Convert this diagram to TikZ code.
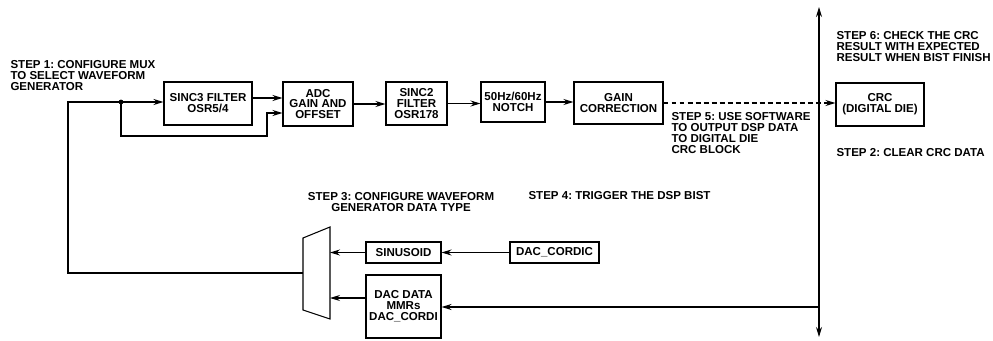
\documentclass[tikz,border=0pt]{standalone}
\usepackage{fontspec}
\setmainfont{Liberation Sans}
\usetikzlibrary{arrows.meta,positioning}
\frenchspacing

\begin{document}
\begin{tikzpicture}[x=0.025cm, y=-0.025cm, font=\fontsize{8.2}{7.8}\selectfont\bfseries,
  line width=0.75pt, >={Stealth[length=0.25cm, width=0.15cm]},
  blk/.style={draw, align=center, inner sep=0pt},
  note/.style={inner sep=0pt, align=left}]
  \useasboundingbox (0,0) rectangle (993,341);
  % signal chain
  \node[blk, minimum width=2.2cm, minimum height=1.075cm] (s3) at (208,103.5) {SINC3 FILTER\\OSR5/4};
  \node[blk, minimum width=1.75cm, minimum height=1.1cm] (adc) at (318,104) {ADC\\GAIN AND\\OFFSET};
  \node[blk, minimum width=1.525cm, minimum height=1.075cm] (s2) at (416.5,103.5) {SINC2\\FILTER\\OSR178};
  \node[blk, minimum width=1.6cm, minimum height=1.0cm] (nt) at (513,102) {50Hz/60Hz\\NOTCH};
  \node[blk, minimum width=2.225cm, minimum height=1.05cm] (gc) at (618.5,103) {GAIN\\CORRECTION};
  \node[blk, minimum width=2.2cm, minimum height=1.075cm] (crc) at (880,104.5) {CRC\\(DIGITAL DIE)};
  % waveform generator
  \node[blk, minimum width=1.875cm, minimum height=0.525cm] (sn) at (403.5,252.5) {SINUSOID};
  \node[blk, minimum width=2.225cm, minimum height=0.525cm] (cd) at (554.5,252.5) {DAC\_CORDIC};
  \node[blk, minimum width=1.875cm, minimum height=1.575cm] (dd) at (403.5,306.5) {DAC DATA\\MMRs\\DAC\_CORDI};
  \coordinate (m1) at (303,238);
  \coordinate (m2) at (330,227);
  \coordinate (m3) at (330,319);
  \coordinate (m4) at (303,310);
  \draw (m1) -- (m2) -- (m3) -- (m4) -- cycle;
  % bus
  \coordinate (bt) at (819,7);
  \coordinate (bb) at (819,337);
  \draw[<->] (bb) -- (bt);
  % connections
  \coordinate (sp) at (121,102);
  \coordinate (lp) at (267,136);
  \fill (sp) circle (1.7pt);
  \draw[->] (sp) -- (sp -| s3.west);
  \draw[->] (s3.east |- 0,98) -- (adc.west |- 0,98);
  \draw[->] (sp) |- (lp) |- (adc.west |- 0,113);
  \draw[->] (adc.east) -- (adc.east -| s2.west);
  \draw[->] (s2.east) -- (s2.east -| nt.west);
  \draw[->] (nt.east) -- (nt.east -| gc.west);
  \draw[dash pattern=on 3.5pt off 2.2pt, ->] (gc.east) -- (gc.east -| crc.west);
  \draw (sp) -| (68,273) -- (m1 |- 0,273);
  \draw[->] (sn.west) -- (sn.west -| m2);
  \draw[->] (dd.west |- 0,298) -- (m2 |- 0,298);
  \draw[->] (cd) -- (sn);
  \draw[->] (bb |- 0,307) -- (dd.east |- 0,307);
  % steps
  \node[note, anchor=west] (t1) at (10,76) {STEP 1: CONFIGURE MUX\\TO SELECT WAVEFORM\\GENERATOR};
  \node[note, anchor=west] (t2) at (836,153) {STEP 2: CLEAR CRC DATA};
  \node[note, align=center] (t3) at (401,202) {STEP 3: CONFIGURE WAVEFORM\\GENERATOR DATA TYPE};
  \node[note, anchor=west] (t4) at (528,196) {STEP 4: TRIGGER THE DSP BIST};
  \node[note, anchor=west] (t5) at (671,133) {STEP 5: USE SOFTWARE\\TO OUTPUT DSP DATA\\TO DIGITAL DIE\\CRC BLOCK};
  \node[note, anchor=west] (t6) at (836,47) {STEP 6: CHECK THE CRC\\RESULT WITH EXPECTED\\RESULT WHEN BIST FINISH};
\end{tikzpicture}
\end{document}
